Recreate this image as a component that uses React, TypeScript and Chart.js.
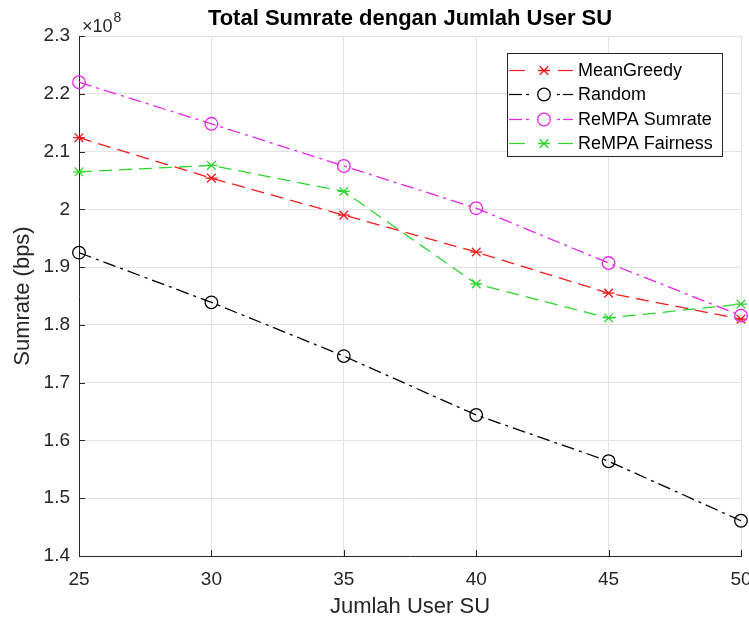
import React, { useEffect, useRef } from "react";
import { Chart, registerables } from "chart.js";

Chart.register(...registerables);

const users = [25, 30, 35, 40, 45, 50];
const meanGreedy = [2.124e8, 2.054e8, 1.99e8, 1.926e8, 1.855e8, 1.81e8];
const randomSR = [1.925e8, 1.839e8, 1.746e8, 1.644e8, 1.564e8, 1.461e8];
const rempaSumrate = [2.22e8, 2.148e8, 2.075e8, 2.002e8, 1.907e8, 1.816e8];
const rempaFairness = [2.065e8, 2.076e8, 2.031e8, 1.871e8, 1.812e8, 1.836e8];
const seriesLabels = ["MeanGreedy", "Random", "ReMPA Sumrate", "ReMPA Fairness"];
const xTicks = [25, 30, 35, 40, 45, 50];
const yMin = 1.4e8;
const yMax = 2.3e8;
const yStep = 0.1e8;
const titleText = "Total Sumrate dengan Jumlah User SU";
const xTitle = "Jumlah User SU";
const yTitle = "Sumrate (bps)";

const FONT = '"Liberation Sans", Arial, Helvetica, sans-serif';
const TEXT = "#262626";

const DASH = [13, 7];
const DASHDOT = [13, 5, 3, 5];

const styles = [
  { color: "#ee1c1c", dash: DASH, marker: "star", kind: "dash" },
  { color: "#000000", dash: DASHDOT, marker: "circle", kind: "dashdot" },
  { color: "#e626e6", dash: DASHDOT, marker: "circle", kind: "dashdot" },
  { color: "#2fd42f", dash: DASH, marker: "star", kind: "dash" },
];

function drawMarker(ctx: CanvasRenderingContext2D, kind: string, x: number, y: number, color: string) {
  ctx.save();
  ctx.setLineDash([]);
  ctx.strokeStyle = color;
  ctx.lineWidth = 1.3;
  ctx.beginPath();
  if (kind === "circle") {
    ctx.arc(x, y, 6.3, 0, Math.PI * 2);
  } else {
    const r = 6;
    ctx.moveTo(x - r, y);
    ctx.lineTo(x + r, y);
    const d = r * 0.72;
    ctx.moveTo(x - d, y - d);
    ctx.lineTo(x + d, y + d);
    ctx.moveTo(x - d, y + d);
    ctx.lineTo(x + d, y - d);
  }
  ctx.stroke();
  ctx.restore();
}

function seg(ctx: CanvasRenderingContext2D, a: number, b: number, y: number) {
  ctx.beginPath();
  ctx.moveTo(a, y);
  ctx.lineTo(b, y);
  ctx.stroke();
}

const overlay = {
  id: "overlay",
  afterDatasetsDraw(chart: any) {
    const { ctx, chartArea } = chart;
    const { left, right, bottom } = chartArea;
    const xs = chart.scales.x;
    const ys = chart.scales.y;
    ctx.save();
    // markers
    chart.data.datasets.forEach((ds: any, i: number) => {
      const meta = chart.getDatasetMeta(i);
      meta.data.forEach((pt: any) => drawMarker(ctx, styles[i].marker, pt.x, pt.y, styles[i].color));
    });
    // inward ticks
    ctx.strokeStyle = TEXT;
    ctx.lineWidth = 1;
    ctx.setLineDash([]);
    xs.ticks.forEach((t: any) => {
      const px = Math.round(xs.getPixelForValue(t.value)) + 0.5;
      ctx.beginPath();
      ctx.moveTo(px, bottom);
      ctx.lineTo(px, bottom - 6);
      ctx.stroke();
    });
    ys.ticks.forEach((t: any) => {
      const py = Math.round(ys.getPixelForValue(t.value)) + 0.5;
      ctx.beginPath();
      ctx.moveTo(left, py);
      ctx.lineTo(left + 6, py);
      ctx.stroke();
    });
    // title
    ctx.fillStyle = "#000";
    ctx.font = `bold 22px ${FONT}`;
    ctx.textAlign = "center";
    ctx.textBaseline = "alphabetic";
    ctx.fillText(titleText, (left + right) / 2, 25);
    // exponent
    ctx.fillStyle = TEXT;
    ctx.textAlign = "left";
    ctx.font = `18px ${FONT}`;
    const base = "\u00d710";
    ctx.fillText(base, left + 3, 32);
    const w = ctx.measureText(base).width;
    ctx.font = `14px ${FONT}`;
    ctx.fillText("8", left + 3 + w + 1, 22);
    // legend
    const bx = 507, by = 53, bw = 215, bh = 103;
    ctx.fillStyle = "#fff";
    ctx.fillRect(bx, by, bw, bh);
    ctx.strokeStyle = TEXT;
    ctx.lineWidth = 1;
    ctx.strokeRect(bx + 0.5, by + 0.5, bw, bh);
    ctx.font = `18px ${FONT}`;
    ctx.textBaseline = "middle";
    chart.data.datasets.forEach((ds: any, i: number) => {
      const ry = Math.round(by + 16.5 + i * 24.5) + 0.5;
      ctx.strokeStyle = styles[i].color;
      ctx.lineWidth = 1.2;
      ctx.setLineDash([]);
      if (styles[i].kind === "dash") {
        seg(ctx, 509, 525, ry);
        seg(ctx, 558, 573, ry);
      } else {
        seg(ctx, 509, 522, ry);
        seg(ctx, 526, 529, ry);
        seg(ctx, 557, 560, ry);
        seg(ctx, 563, 573, ry);
      }
      drawMarker(ctx, styles[i].marker, 544, ry, styles[i].color);
      ctx.fillStyle = "#000";
      ctx.fillText(ds.label, 578, ry + 1);
    });
    ctx.restore();
  },
};

const seriesValues = [meanGreedy, randomSR, rempaSumrate, rempaFairness];

export default function App() {
  const ref = useRef<HTMLCanvasElement | null>(null);
  useEffect(() => {
    document.body.style.margin = "0";
    const canvas = ref.current!;
    const chart = new Chart(canvas, {
      type: "line",
      data: {
        datasets: seriesValues.map((vals, i) => ({
          label: seriesLabels[i],
          data: users.map((u, j) => ({ x: u, y: vals[j] })),
          borderColor: styles[i].color,
          backgroundColor: styles[i].color,
          borderWidth: 1.3,
          borderDash: styles[i].dash,
          pointRadius: 0,
          pointHoverRadius: 0,
          tension: 0,
          fill: false,
          clip: false as any,
        })),
      },
      options: {
        animation: false,
        responsive: false,
        devicePixelRatio: 1,
        events: [],
        layout: { padding: { top: 36, right: 8, left: 0, bottom: 0 } },
        plugins: {
          legend: { display: false },
          title: { display: false },
          tooltip: { enabled: false },
        },
        scales: {
          x: {
            type: "linear",
            min: 25,
            max: 50,
            afterBuildTicks: (s: any) => {
              s.ticks = xTicks.map((v) => ({ value: v }));
            },
            afterFit: (s: any) => {
              s.height = 68;
              s.paddingLeft = 0;
              s.paddingRight = 0;
            },
            ticks: {
              color: TEXT,
              font: { family: FONT, size: 19 },
              padding: 12,
              maxRotation: 0,
              autoSkip: false,
              callback: (v: any) => String(v),
            },
            grid: { color: "#e3e3e3", lineWidth: 1, drawTicks: false },
            border: { display: true, color: TEXT, width: 1 },
            title: {
              display: true,
              text: xTitle,
              color: TEXT,
              font: { family: FONT, size: 22 },
              padding: { top: 0, bottom: 4 },
            },
          },
          y: {
            type: "linear",
            min: yMin,
            max: yMax,
            afterFit: (s: any) => {
              s.width = 79;
              s.paddingTop = 0;
              s.paddingBottom = 0;
            },
            ticks: {
              stepSize: yStep,
              color: TEXT,
              font: { family: FONT, size: 19 },
              padding: 9,
              callback: (v: any) => String(Number((Number(v) / 1e8).toFixed(1))),
            },
            grid: { color: "#e3e3e3", lineWidth: 1, drawTicks: false },
            border: { display: true, color: TEXT, width: 1 },
            title: {
              display: true,
              text: yTitle,
              color: TEXT,
              font: { family: FONT, size: 22 },
              padding: { top: 10, bottom: 0 },
            },
          },
        },
      },
      plugins: [overlay],
    });
    return () => chart.destroy();
  }, []);
  return (
    <div style={{ width: 749, height: 624, background: "#fff" }}>
      <canvas ref={ref} width={749} height={624} style={{ display: "block", width: 749, height: 624 }} />
    </div>
  );
}
